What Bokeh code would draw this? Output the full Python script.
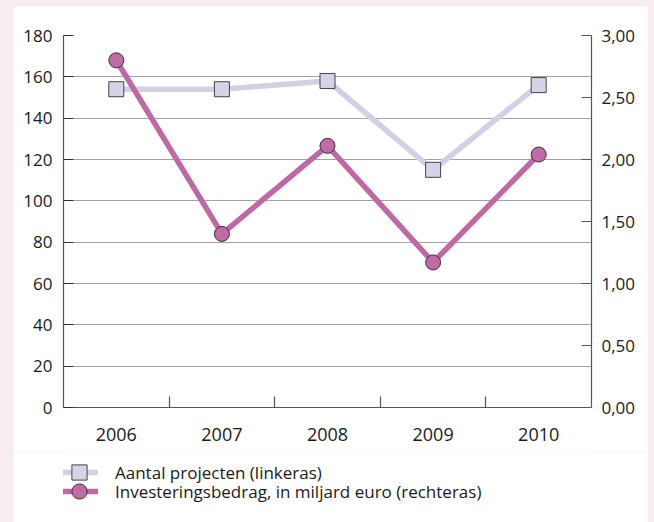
from bokeh.plotting import figure
from bokeh.layouts import column
from bokeh.models import (Range1d, LinearAxis, FixedTicker, CustomJSTickFormatter,
                          Legend, LegendItem)
from bokeh.embed import file_html
from bokeh.resources import INLINE

# ---- data ----
years = ["2006", "2007", "2008", "2009", "2010"]
projecten = [154, 154, 158, 115, 156]          # left axis
investering = [2.80, 1.40, 2.11, 1.17, 2.04]   # right axis (miljard euro)
left_ticks = [0, 20, 40, 60, 80, 100, 120, 140, 160, 180]
right_ticks = [0.0, 0.5, 1.0, 1.5, 2.0, 2.5, 3.0]
label_proj = "Aantal projecten (linkeras)"
label_inv = "Investeringsbedrag, in miljard euro (rechteras)"

FONT = "Open Sans"
TXT = "#1a1a1a"
AX = "#555555"
PINK = "#f8ecf3"
LAV_LINE = "#d3cfe5"
LAV_FILL = "#d5d3e8"
MAG_LINE = "#be69a4"
MAG_FILL = "#c06aa6"

xs = list(range(1, len(years) + 1))

chart = figure(width=635, height=446, output_backend="svg", toolbar_location=None,
               x_range=Range1d(0.5, len(years) + 0.5), y_range=Range1d(0, 180),
               min_border_left=50, min_border_right=57, min_border_top=29,
               min_border_bottom=45, margin=(6, 6, 0, 13))
chart.outline_line_color = None
chart.background_fill_color = "white"
chart.border_fill_color = "white"
chart.extra_y_ranges = {"right": Range1d(0, 3)}

# bottom axis
xa = chart.xaxis[0]
xa.ticker = FixedTicker(ticks=xs, minor_ticks=[x + 0.5 for x in xs[:-1]])
xa.major_label_overrides = {x: y for x, y in zip(xs, years)}
xa.major_tick_in = 0
xa.major_tick_out = 0
xa.minor_tick_in = 11
xa.minor_tick_out = 0
xa.minor_tick_line_color = AX
xa.minor_tick_line_width = 1.2
xa.axis_line_color = AX
xa.axis_line_width = 1.2
xa.major_label_text_font = FONT
xa.major_label_text_font_size = "18px"
xa.major_label_text_color = TXT
xa.major_label_standoff = 20

# left axis
ya = chart.yaxis[0]
ya.ticker = FixedTicker(ticks=left_ticks)
ya.major_tick_in = 10
ya.major_tick_out = 0
ya.major_tick_line_color = "#333333"
ya.major_tick_line_width = 1.2
ya.minor_tick_line_color = None
ya.axis_line_color = AX
ya.axis_line_width = 1.2
ya.major_label_text_font = FONT
ya.major_label_text_font_size = "17px"
ya.major_label_text_color = TXT
ya.major_label_standoff = 11

# right axis
ra = LinearAxis(y_range_name="right", ticker=FixedTicker(ticks=right_ticks),
                formatter=CustomJSTickFormatter(code="return tick.toFixed(2).replace('.', ',');"))
ra.major_tick_in = 10
ra.major_tick_out = 0
ra.major_tick_line_color = AX
ra.major_tick_line_width = 1.2
ra.minor_tick_line_color = None
ra.axis_line_color = AX
ra.axis_line_width = 1.2
ra.major_label_text_font = FONT
ra.major_label_text_font_size = "17px"
ra.major_label_text_color = TXT
ra.major_label_standoff = 10
chart.add_layout(ra, "right")

# grid
chart.xgrid.grid_line_color = None
chart.ygrid.ticker = FixedTicker(ticks=left_ticks)
chart.ygrid.grid_line_color = "#444444"
chart.ygrid.grid_line_dash = "1 1"
chart.ygrid.grid_line_width = 1

# series
line_kw1 = dict(line_color=LAV_LINE, line_width=5.5)
mark_kw1 = dict(marker="square", size=15, fill_color=LAV_FILL, line_color="#444444", line_width=1)
line_kw2 = dict(line_color=MAG_LINE, line_width=5.5)
mark_kw2 = dict(marker="circle", size=15, fill_color=MAG_FILL, line_color="#333333", line_width=1)

chart.line(xs, projecten, **line_kw1)
chart.scatter(xs, projecten, **mark_kw1)
chart.line(xs, investering, y_range_name="right", **line_kw2)
chart.scatter(xs, investering, y_range_name="right", **mark_kw2)

# ---- legend strip (separate figure so the legend is not clipped) ----
# its ranges are far from the data, so its own copies of the series stay hidden
leg = figure(width=635, height=70, output_backend="svg", toolbar_location=None,
             x_range=Range1d(-2, -1), y_range=Range1d(-2, -1),
             x_axis_location=None, y_axis_location=None, min_border=0,
             margin=(0, 6, 0, 13))
leg.outline_line_color = None
leg.grid.visible = False
leg.background_fill_color = "white"
leg.border_fill_color = "white"

d1l = leg.line(xs, projecten, **line_kw1)
d1m = leg.scatter(xs, projecten, **mark_kw1)
d2l = leg.line(xs, investering, **line_kw2)
d2m = leg.scatter(xs, investering, **mark_kw2)

common = dict(orientation="vertical", glyph_width=38, glyph_height=38,
              label_standoff=17, label_text_font=FONT, label_text_font_size="17px",
              label_text_color=TXT, padding=0, margin=0, spacing=0,
              border_line_color=None, background_fill_alpha=0)
lg1 = Legend(items=[LegendItem(label=label_proj, renderers=[d1l, d1m])],
             location=(-3, 31), **common)
lg2 = Legend(items=[LegendItem(label=label_inv, renderers=[d2l, d2m])],
             location=(-3, 12), **common)
leg.add_layout(lg1, "center")
leg.add_layout(lg2, "center")

p = column(chart, leg, spacing=0, styles={"background-color": PINK})

open("out.html", "w").write(file_html(p, INLINE))
